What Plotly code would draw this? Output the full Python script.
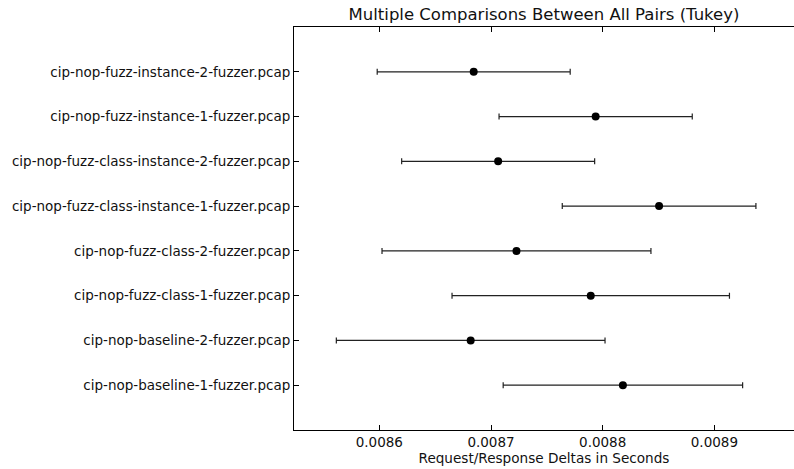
import plotly.graph_objects as go

groups = [
    "cip-nop-baseline-1-fuzzer.pcap",
    "cip-nop-baseline-2-fuzzer.pcap",
    "cip-nop-fuzz-class-1-fuzzer.pcap",
    "cip-nop-fuzz-class-2-fuzzer.pcap",
    "cip-nop-fuzz-class-instance-1-fuzzer.pcap",
    "cip-nop-fuzz-class-instance-2-fuzzer.pcap",
    "cip-nop-fuzz-instance-1-fuzzer.pcap",
    "cip-nop-fuzz-instance-2-fuzzer.pcap",
]
means = [0.0088181, 0.0086818, 0.0087893, 0.0087228, 0.0088505, 0.0087064, 0.0087937, 0.0086845]
halfwidths = [0.0001072, 0.0001203, 0.0001242, 0.0001204, 0.0000867, 0.0000864, 0.0000865, 0.0000864]
xticks = [0.0086, 0.0087, 0.0088, 0.0089]
xtick_text = ["0.0086", "0.0087", "0.0088", "0.0089"]

FONT = "DejaVu Sans"

fig = go.Figure()
fig.add_trace(go.Scatter(
    x=means, y=groups, mode="markers",
    marker=dict(color="black", size=8, symbol="circle"),
    error_x=dict(type="data", array=halfwidths, visible=True,
                 color="#222222", thickness=1.2, width=3),
    showlegend=False,
))

fig.update_layout(
    width=794, height=469,
    margin=dict(l=294, r=0, t=27, b=39),
    paper_bgcolor="white", plot_bgcolor="white",
    title=dict(text="Multiple Comparisons Between All Pairs (Tukey)",
               x=(294 + 794) / 2 / 794, xanchor="center", y=1 - 14 / 469, yanchor="middle",
               font=dict(family=FONT, size=16.5, color="#111111")),
    font=dict(family=FONT, size=13.5, color="#111111"),
    yaxis2=dict(overlaying="y", side="right", anchor="x", range=[-1, 8],
                tickmode="array", tickvals=list(range(len(groups))),
                showticklabels=False, ticks="inside", ticklen=5, tickcolor="black",
                showline=False, showgrid=False, zeroline=False),
)
fig.update_xaxes(
    range=[0.0085236, 0.0089713],
    tickvals=xticks, ticktext=xtick_text,
    ticks="inside", ticklen=5, tickcolor="black",
    showline=True, linecolor="black", linewidth=1, mirror="ticks",
    showgrid=False, zeroline=False,
    title=dict(text="Request/Response Deltas in Seconds", font=dict(family=FONT, size=13.6), standoff=3),
    tickfont=dict(family=FONT, size=13.5),
)
fig.update_yaxes(
    selector=dict(anchor="x") if False else None,
)
fig.layout.yaxis.update(
    type="category", range=[-1, 8],
    ticks="inside", ticklen=5, tickcolor="black",
    showline=True, linecolor="black", linewidth=1, mirror=False,
    showgrid=False, zeroline=False,
    tickfont=dict(family=FONT, size=13.5),
)

fig.write_html("out.html", config={"displayModeBar": False},
               post_script="document.body.style.margin='0';document.body.style.overflow='hidden';")
